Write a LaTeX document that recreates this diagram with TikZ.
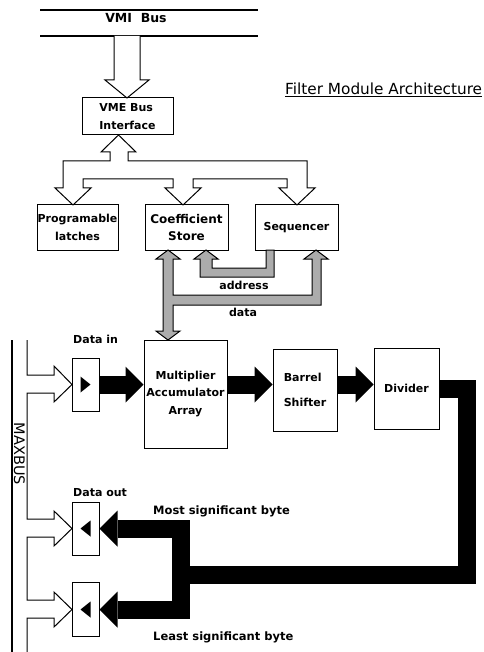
\documentclass[tikz,border=0pt]{standalone}
\usepackage{fontspec}
\setmainfont{DejaVu Sans}
\usetikzlibrary{arrows.meta}

\begin{document}
\begin{tikzpicture}[
        x=1pt, y=-1pt,
        box/.style={draw, line width=1pt, inner sep=0pt, align=center, font=\fontsize{11}{17.5}\selectfont\bfseries},
        lbl/.style={inner sep=0pt, font=\fontsize{11}{13}\selectfont\bfseries},
        hollow/.style={draw, line width=1pt, fill=white, line join=miter},
        grey arrow/.style={draw, line width=1pt, fill=gray!65},
        bus/.style={line width=1.2pt},
        blk/.style={line width=18pt, -{Triangle[length=18pt 0 0, width=36pt 0 0, line width=0pt 0 0]}}
    ]
        \useasboundingbox (0,0) rectangle (483,652);

        \draw[bus] (40,10) -- (258,10);
        \draw[bus] (40,36) -- (258,36);
        \node[lbl, anchor=base, font=\fontsize{12.5}{14}\selectfont\bfseries] (vmi) at (136,23) {VMI\hspace{0.7em}Bus};
        \node[inner sep=0pt, anchor=base west, font=\fontsize{15.3}{17}\selectfont] (title) at (285,95) {\underline{Filter Module Architecture}};

        \node[box, minimum width=91pt, minimum height=37pt, align=left] (vme) at (127.5,116.5) {VME Bus\\Interface};
        \node[box, minimum width=81pt, minimum height=45pt] (latch) at (77.5,227.5) {Programable\\latches};
        \node[box, minimum width=83pt, minimum height=45pt, font=\fontsize{12}{17.5}\selectfont\bfseries] (coef) at (186.5,227.5) {Coefficient\\Store};
        \node[box, minimum width=83pt, minimum height=45pt] (seq) at (296.5,227.5) {Sequencer};

        \node[box, minimum width=27pt, minimum height=53pt] (din) at (85.5,384.5) {};
        \node[box, minimum width=83pt, minimum height=108pt] (mac) at (185.5,394) {Multiplier\\Accumulator\\Array};
        \node[box, minimum width=64pt, minimum height=82pt, align=left] (bs) at (305,390) {Barrel\\[8pt]Shifter};
        \node[box, minimum width=65pt, minimum height=81pt] (div) at (406.5,388.5) {Divider};
        \node[box, minimum width=27pt, minimum height=53pt] (dout1) at (85.5,528.5) {};
        \node[box, minimum width=27pt, minimum height=54pt] (dout2) at (85.5,609.5) {};

        \foreach \n/\d in {din/1, dout1/-1, dout2/-1}
            \fill (\n.center) ++(-5*\d,-8) -- ++(10*\d,8) -- ++(-10*\d,8) -- cycle;

        \node[lbl, anchor=base] (addrlbl) at (244,289) {address};
        \node[lbl, anchor=base] (datalbl) at (243,316) {data};
        \node[lbl, anchor=base west] (dinlbl) at (73,343) {Data in};
        \node[lbl, anchor=base west] (doutlbl) at (73,496) {Data out};
        \node[lbl, anchor=base west, font=\fontsize{11.5}{13}\selectfont\bfseries] (msb) at (153,514) {Most significant byte};
        \node[lbl, anchor=base west, font=\fontsize{11.5}{13}\selectfont\bfseries] (lsb) at (153,640) {Least significant byte};
        \node[inner sep=0pt, rotate=-90, font=\fontsize{14.5}{16}\selectfont] (maxbus) at (19.5,454) {MAXBUS};

        \draw[hollow] (114,36) -- (114,80) -- (105,80) -- (127,98) -- (149,80) -- (140,80) -- (140,36);
        \draw[hollow] (118.5,135) -- (136,152) -- (128,152) -- (128,161) -- (307,161) -- (307,188)
            -- (315,188) -- (297,205) -- (279,188) -- (287,188) -- (287,179) -- (193,179) -- (193,188)
            -- (201,188) -- (183,205) -- (165,188) -- (173,188) -- (173,179) -- (83,179) -- (83,188)
            -- (91,188) -- (73,205) -- (55,188) -- (63,188) -- (63,161) -- (110,161) -- (110,152)
            -- (101,152) -- cycle;

        \draw[grey arrow] (168,250) -- (180,259) -- (173,259) -- (173,295) -- (312,295) -- (312,259)
            -- (304,259) -- (316,250) -- (328,259) -- (321,259) -- (321,305) -- (173,305) -- (173,331)
            -- (180,331) -- (168,340) -- (156,331) -- (163,331) -- (163,259) -- (156,259) -- cycle;
        \draw[grey arrow] (274,250) -- (274,277) -- (200,277) -- (200,259) -- (194,259) -- (206,250)
            -- (218,259) -- (212,259) -- (212,268) -- (266,268) -- (266,250) -- cycle;

        \draw[bus] (12,340) -- (12,652);
        \draw[hollow] (27,340) -- (27,375) -- (54,375) -- (54,366) -- (72,384.5) -- (54,402) -- (54,393)
            -- (27,393) -- (27,519) -- (54,519) -- (54,511) -- (72,528.5) -- (54,546) -- (54,537)
            -- (27,537) -- (27,600) -- (54,600) -- (54,592) -- (72,609.5) -- (54,627) -- (54,618)
            -- (27,618) -- (27,652);

        \draw[blk] (din.east) -- (din.east -| mac.west);
        \draw[blk] (din.east -| mac.east) -- (din.east -| bs.west);
        \draw[blk] (din.east -| bs.east) -- (din.east -| div.west);
        \coordinate (turn) at (467,575);
        \coordinate (split) at (181,575);
        \draw[blk] (div.east) -| (turn) -- (split) |- (dout1.east);
        \draw[blk] (split) |- (dout2.east);
\end{tikzpicture}
\end{document}
